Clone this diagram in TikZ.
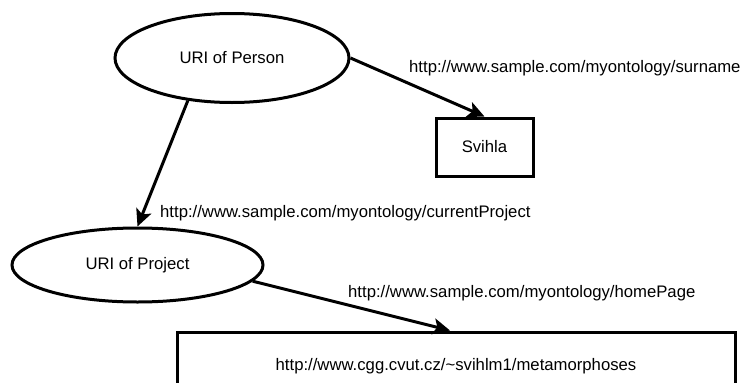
\documentclass[tikz,border=0pt]{standalone}
\usepackage{fontspec}
\setmainfont{Liberation Sans}
\usetikzlibrary{shapes.geometric,arrows.meta}
\begin{document}
\begin{tikzpicture}[x=1pt,y=-1pt,
  font=\fontsize{16.7}{20}\selectfont,
  every node/.style={inner sep=0pt},
  res/.style={draw,line width=3pt,ellipse},
  lit/.style={draw,line width=3pt,rectangle},
  prop/.style={line width=3pt,-{Stealth[length=17pt,width=16pt,inset=4pt]}},
  lbl/.style={anchor=base west}]
\useasboundingbox (0,0) rectangle (745,383);
\clip (0,0) rectangle (745,383);
% resources
\node[res,minimum width=234pt,minimum height=89pt] (person) at (232,58) {URI of Person};
\node[res,minimum width=251pt,minimum height=74pt] (project) at (137.5,265) {URI of Project};
% literals
\node[lit,minimum width=97pt,minimum height=58pt] (svihla) at (484.5,147) {Svihla};
\node[lit,minimum width=558pt,minimum height=90pt] (home) at (456,377) {};
\node (homeurl) at (456,366) {http://www.cgg.cvut.cz/\textasciitilde svihlm1/metamorphoses};
% properties
\draw[prop] (person.east) -- (svihla.north);
\draw[prop] (person.-136) -- (project.north);
\draw[prop] (project.-8) -- (home.north -| 450,0);
% property labels
\node[lbl] (lsurname) at (409,72) {http://www.sample.com/myontology/surname};
\node[lbl] (lcurrent) at (160,217) {http://www.sample.com/myontology/currentProject};
\node[lbl] (lhome) at (348,297) {http://www.sample.com/myontology/homePage};
\end{tikzpicture}
\end{document}
